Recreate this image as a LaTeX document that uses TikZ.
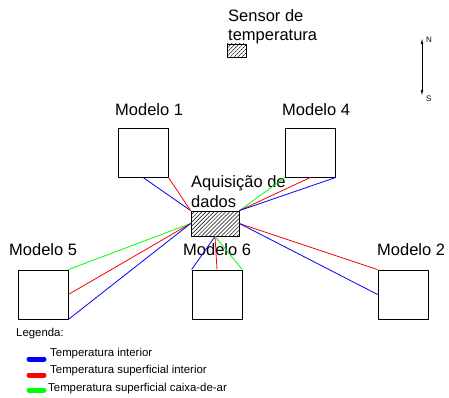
\documentclass[tikz,border=0pt]{standalone}
\usepackage{fontspec}
\setmainfont{Liberation Sans}
\usetikzlibrary{patterns.meta,arrows.meta}
\tikzset{
	modelo/.style={draw,line width=0.8pt,minimum width=50pt,minimum height=49pt,inner sep=0pt},
	hachura/.style={draw,line width=0.8pt,inner sep=0pt,pattern={Lines[angle=45,distance=2.8pt,line width=0.5pt]}},
	rotulo/.style={anchor=base west,inner sep=0pt,font=\fontsize{16.5}{19.5}\selectfont,align=left},
	legenda/.style={anchor=base west,inner sep=0pt,font=\fontsize{11.4}{13}\selectfont},
	amostra/.style={line width=5pt,line cap=round},
	fio/.style={line width=0.8pt}
}
\begin{document}
\begin{tikzpicture}[x=1pt,y=-1pt,line join=round]
	\useasboundingbox (0,0) rectangle (449,398);
	%Sensor e aquisição
	\node[hachura,minimum width=19pt,minimum height=13pt] (sensor) at (236.5,50.5) {};
	\node[rotulo] (lsensor) at (228,41) {Sensor de\\temperatura};
	\node[hachura,minimum width=48pt,minimum height=25pt] (daq) at (215,223.5) {};
	\node[rotulo] (ldaq) at (191,207) {Aquisição de\\dados};
	%Modelos
	\node[modelo] (m1) at (143,152.5) {};
	\node[modelo] (m4) at (310.5,152.5) {};
	\node[modelo] (m5) at (43,294.5) {};
	\node[modelo] (m6) at (217,294.5) {};
	\node[modelo] (m2) at (403,294.5) {};
	\node[rotulo] (l1) at (115,116) {Modelo 1};
	\node[rotulo] (l4) at (282,116) {Modelo 4};
	\node[rotulo] (l5) at (9,255) {Modelo 5};
	\node[rotulo] (l6) at (183,255) {Modelo 6};
	\node[rotulo] (l2) at (377,255) {Modelo 2};
	%Ligações
	\draw[fio,blue] (m1.south) -- (daq.north west);
	\draw[fio,red] (m1.south east) -- (daq.north west);
	\draw[fio,green] (m4.south west) -- (daq.north east);
	\draw[fio,red] (m4.south) -- (daq.north east);
	\draw[fio,blue] (m4.south east) -- (daq.north east);
	\draw[fio,green] (m5.north east) -- (daq.west);
	\draw[fio,red] (m5.east) -- (daq.west);
	\draw[fio,blue] (m5.south east) -- (daq.west);
	\draw[fio,red] (m2.north west) -- (daq.east);
	\draw[fio,blue] (m2.west) -- (daq.east);
	\draw[fio,blue] (m6.north west) -- (daq.south);
	\draw[fio,red] (m6.north) -- (daq.south);
	\draw[fio,green] (m6.north east) -- (daq.south);
	%Norte
	\path (422,38) coordinate (norte) (422,96) coordinate (sul);
	\draw[line width=0.7pt,{Latex[length=6pt,width=2.5pt]}-{Latex[length=6pt,width=2.5pt]}] (norte) -- (sul);
	\node[anchor=base west,inner sep=0pt,font=\fontsize{8}{9}\selectfont] (lnorte) at (426,43) {N};
	\node[anchor=base west,inner sep=0pt,font=\fontsize{8}{9}\selectfont] (lsul) at (426,102) {S};
	%Legenda
	\node[legenda] (leg) at (16,336) {Legenda:};
	\draw[amostra,blue] (29,359) -- (44,359);
	\draw[amostra,red] (29,375) -- (44,375);
	\draw[amostra,green] (29,390) -- (44,390);
	\node[legenda] (leg1) at (50,356) {Temperatura interior};
	\node[legenda] (leg2) at (50,373) {Temperatura superficial interior};
	\node[legenda] (leg3) at (48,391) {Temperatura superficial caixa-de-ar};
\end{tikzpicture}
\end{document}
